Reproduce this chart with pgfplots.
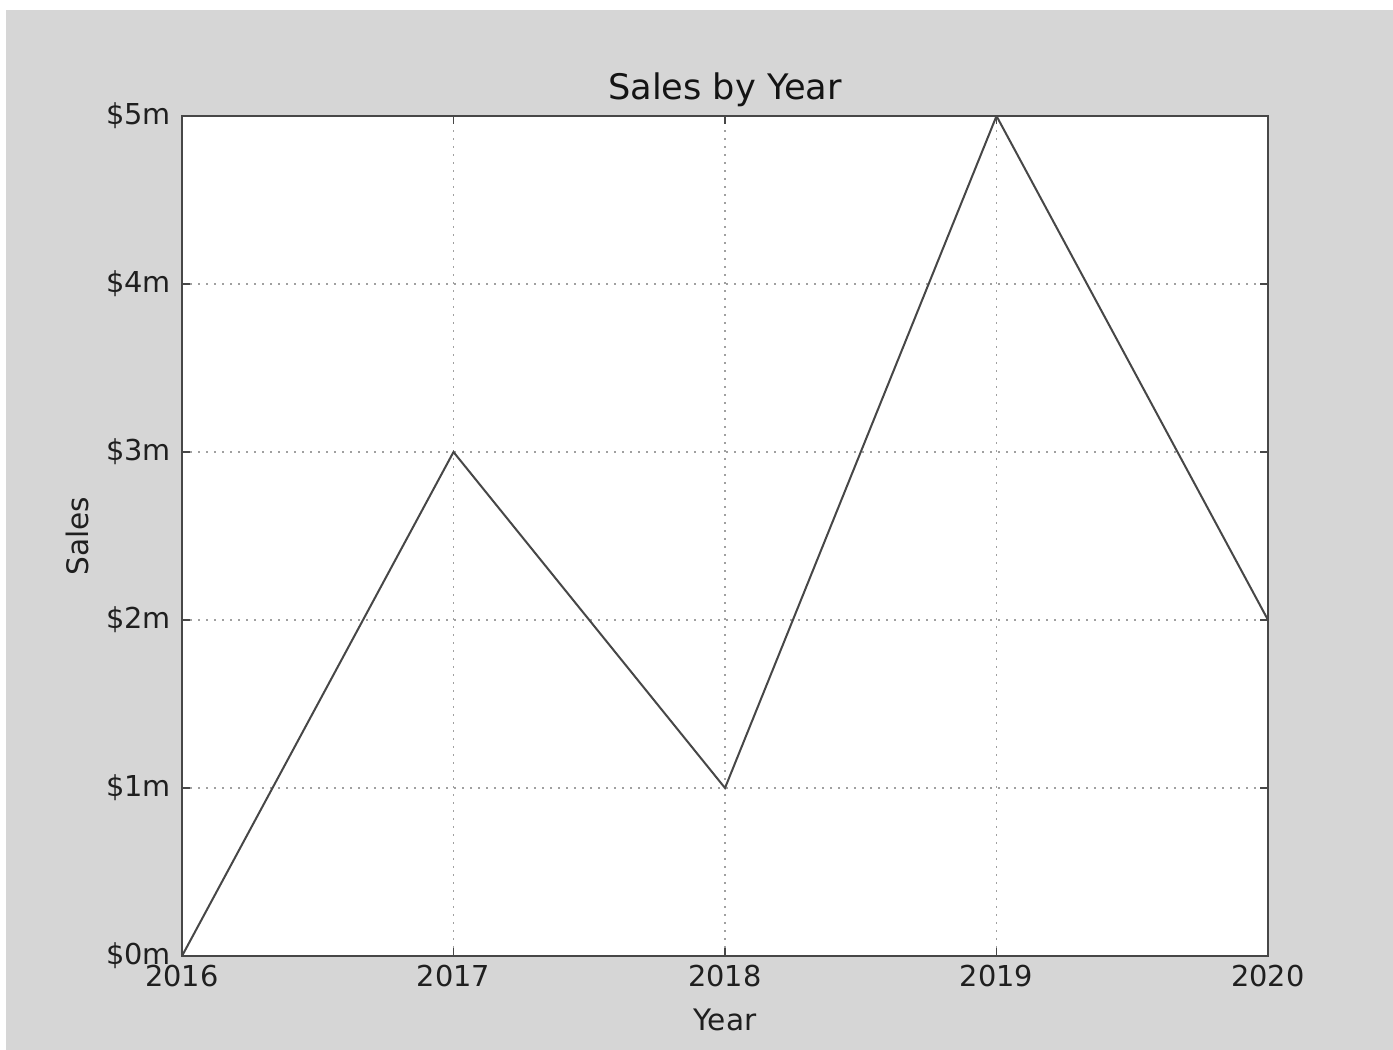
\documentclass[border=0pt]{standalone}
\usepackage{fontspec}
\setmainfont{DejaVu Sans}
\usepackage{pgfplots}
\pgfplotsset{compat=1.18}
\definecolor{bggray}{HTML}{D6D6D6}
\definecolor{linegray}{HTML}{474747}
\definecolor{gridgray}{HTML}{A0A0A0}

\begin{document}
\begin{tikzpicture}
  % screenshot backdrop
  \fill[white] (0,0) rectangle (696.5pt,525pt);
  \fill[bggray] (3pt,0) rectangle (696.5pt,520pt);
  \begin{axis}[
    at={(91pt,47pt)}, anchor=south west,
    scale only axis,
    width=543pt, height=420pt,
    xmin=2016, xmax=2020,
    ymin=0, ymax=5,
    xtick={2016,2017,2018,2019,2020},
    xticklabels={2016,2017,2018,2019,2020},
    ytick={0,1,2,3,4,5},
    yticklabels={\$0m,\$1m,\$2m,\$3m,\$4m,\$5m},
    tick align=inside,
    tick pos=both,
    major tick length=4pt,
    every tick/.style={linegray, line width=0.6pt},
    axis line style={linegray, line width=1pt},
    axis background/.style={fill=white},
    grid=major,
    major grid style={gridgray, line width=0.7pt, dash pattern=on 1pt off 3pt},
    tick label style={font=\fontsize{14.4}{17}\selectfont, text=black!88},
    xticklabel style={yshift=-1pt},
    yticklabel style={xshift=-2pt},
    label style={font=\fontsize{14.8}{17}\selectfont, text=black!88},
    xlabel style={yshift=-4pt},
    ylabel style={yshift=2pt},
    title style={font=\fontsize{17.6}{21}\selectfont, text=black!92, yshift=-5pt},
    title={Sales by Year},
    xlabel={Year},
    ylabel={Sales},
  ]
    \addplot[linegray, line width=1pt, mark=none] coordinates {
      (2016,0) (2017,3) (2018,1) (2019,5) (2020,2)
    };
  \end{axis}
\end{tikzpicture}
\end{document}
